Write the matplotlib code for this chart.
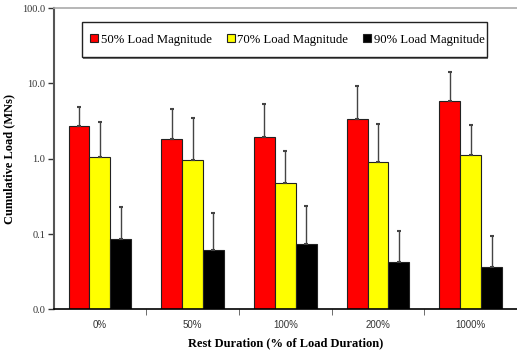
import matplotlib
matplotlib.use("Agg")
import matplotlib.pyplot as plt
from matplotlib.patches import Rectangle
import numpy as np

categories = ["0%", "50%", "100%", "200%", "1000%"]
series_names = ["50% Load Magnitude", "70% Load Magnitude", "90% Load Magnitude"]
colors = ["#ff0000", "#ffff00", "#000000"]

load_50 = [2.74, 1.83, 1.94, 3.37, 5.9]
load_70 = [1.06, 0.95, 0.47, 0.91, 1.12]
load_90 = [0.085, 0.061, 0.074, 0.043, 0.037]

# top of each (upper-only) error bar
upper_50 = [4.9, 4.6, 5.37, 9.3, 14.2]
upper_70 = [3.07, 3.44, 1.28, 2.86, 2.77]
upper_90 = [0.226, 0.188, 0.238, 0.109, 0.093]

y_ticks = [0.01, 0.1, 1, 10, 100]
y_tick_labels = ["0.0", "0.1", "1.0", "10.0", "100.0"]

serif = "Liberation Serif"
sans = "Liberation Sans"

fig = plt.figure(figsize=(5.17, 3.52), dpi=100)
ax = fig.add_axes([0.1035, 0.1213, 0.8965, 0.8557])

x = np.arange(len(categories))
width = 0.225
values = [load_50, load_70, load_90]
uppers = [upper_50, upper_70, upper_90]
for i, (vals, ups) in enumerate(zip(values, uppers)):
    vals = np.array(vals)
    err = np.vstack([np.zeros_like(vals), np.array(ups) - vals])
    ax.bar(x + (i - 1) * width, vals, width, color=colors[i],
           edgecolor="#222222", linewidth=0.8, label=series_names[i],
           yerr=err, ecolor="#444444",
           error_kw=dict(elinewidth=1.0, capsize=1.5, capthick=1.5), zorder=2)

ax.set_yscale("log")
ax.set_ylim(0.01, 100)
ax.set_yticks(y_ticks)
ax.set_yticklabels(y_tick_labels, fontfamily=serif, fontsize=7.5, color="#333333")
ax.yaxis.set_minor_locator(matplotlib.ticker.NullLocator())

ax.set_xlim(-0.5, len(categories) - 0.5)
ax.set_xticks(x)
ax.set_xticklabels(categories, fontfamily=sans, fontsize=7, color="#333333")
ax.tick_params(axis="x", length=0, pad=8)
ax.set_xticks(np.arange(len(categories) - 1) + 0.5, minor=True)
ax.tick_params(axis="x", which="minor", length=4, color="#555555")
ax.tick_params(axis="y", length=4, width=1, color="#333333", pad=2)

ax.spines["left"].set_color("#555555")
ax.spines["left"].set_linewidth(1.5)
ax.spines["bottom"].set_color("#000000")
ax.spines["bottom"].set_linewidth(1.2)
ax.spines["top"].set_color("#aaaaaa")
ax.spines["top"].set_linewidth(1.2)
ax.spines["right"].set_visible(False)

ax.set_ylabel("Cumulative Load (MNs)", fontfamily=serif, fontweight="bold",
              fontsize=9, labelpad=5)
ax.set_xlabel("Rest Duration (% of Load Duration)", fontfamily=serif,
              fontweight="bold", fontsize=9, labelpad=5)

# legend box (drawn by hand so padding matches the original)
box = dict(x0=0.0615, y0=0.8374, w=0.874, h=0.1162)
shadow = Rectangle((box["x0"] + 0.003, box["y0"] - 0.005), box["w"], box["h"],
                   transform=ax.transAxes, facecolor="#777777", edgecolor="none",
                   zorder=4, clip_on=False)
frame = Rectangle((box["x0"], box["y0"]), box["w"], box["h"],
                  transform=ax.transAxes, facecolor="white", edgecolor="#222222",
                  linewidth=1.0, zorder=5, clip_on=False)
ax.add_patch(shadow)
ax.add_patch(frame)

leg = ax.legend(loc="center left", bbox_to_anchor=(0.0787, 0.8955), ncol=3,
                frameon=False, prop={"family": serif, "size": 9.2},
                handlelength=0.65, handleheight=0.65, handletextpad=0.2,
                columnspacing=1.15, borderpad=0, borderaxespad=0)
leg.set_zorder(6)

fig.savefig("out.png", dpi=100)
